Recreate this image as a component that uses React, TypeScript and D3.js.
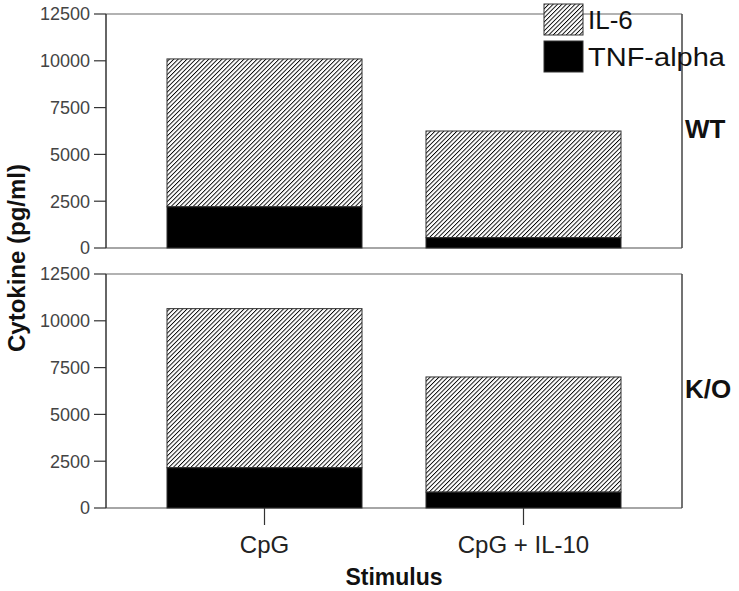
import React from "react";
import * as d3 from "d3";

const categories = ["CpG", "CpG + IL-10"];
const panels = ["WT", "K/O"];
const tnfAlpha = [
  [2200, 550],
  [2150, 850],
];
const il6Total = [
  [10100, 6250],
  [10650, 7000],
];
const yTicks = [0, 2500, 5000, 7500, 10000, 12500];
const legendLabels = ["IL-6", "TNF-alpha"];

const W = 739;
const H = 591;
const left = 106;
const right = 682;
const panelRanges: [number, number][] = [
  [248, 14],
  [508, 274],
];
const font = "'Liberation Sans', Arial, sans-serif";

export default function App() {
  const x = d3
    .scaleBand<string>()
    .domain(categories)
    .range([left, right])
    .paddingInner(0.247)
    .paddingOuter(0.2355);

  return (
    <svg
      width={W}
      height={H}
      style={{ position: "absolute", left: 0, top: 0, background: "#fff" }}
      fontFamily={font}
    >
      <defs>
        <pattern
          id="hatch"
          patternUnits="userSpaceOnUse"
          width={3.1}
          height={3.1}
          patternTransform="rotate(45)"
        >
          <rect width={3.1} height={3.1} fill="#fff" />
          <line x1={0} y1={0} x2={0} y2={3.1} stroke="#000" strokeWidth={1.8} />
        </pattern>
      </defs>
      {panels.map((p, pi) => {
        const y = d3.scaleLinear().domain([0, 12500]).range(panelRanges[pi]);
        const y0 = y(0);
        const yTop = y(12500);
        return (
          <g key={p}>
            <line x1={left} x2={right} y1={yTop} y2={yTop} stroke="#999" strokeWidth={1.5} />
            <line x1={left} x2={right} y1={y0} y2={y0} stroke="#888" strokeWidth={1.5} />
            <line x1={right} x2={right} y1={yTop} y2={y0} stroke="#444" strokeWidth={1.5} />
            {categories.map((c, ci) => {
              const bx = x(c)!;
              const bw = x.bandwidth();
              const t = tnfAlpha[pi][ci];
              const tot = il6Total[pi][ci];
              return (
                <g key={c}>
                  <rect
                    x={bx}
                    y={y(tot)}
                    width={bw}
                    height={y(t) - y(tot)}
                    fill="url(#hatch)"
                    stroke="#333"
                    strokeWidth={1}
                  />
                  <rect
                    x={bx}
                    y={y(t)}
                    width={bw}
                    height={y0 - y(t)}
                    fill="#000"
                    stroke="#333"
                    strokeWidth={1}
                  />
                </g>
              );
            })}
            <line x1={left} x2={left} y1={yTop} y2={y0} stroke="#333" strokeWidth={1.5} />
            {yTicks.map((v) => (
              <g key={v}>
                <line x1={left - 12} x2={left} y1={y(v)} y2={y(v)} stroke="#333" strokeWidth={1.2} />
                <text
                  x={left - 16}
                  y={y(v)}
                  dy="0.35em"
                  textAnchor="end"
                  fontSize={18}
                  fill="#444"
                >
                  {v}
                </text>
              </g>
            ))}
            <text
              x={685}
              y={(yTop + y0) / 2 - 2}
              dy="0.35em"
              fontSize={26}
              fontWeight="bold"
              fill="#111"
            >
              {p}
            </text>
          </g>
        );
      })}
      {categories.map((c) => {
        const cx = x(c)! + x.bandwidth() / 2;
        return (
          <g key={c}>
            <line x1={cx} x2={cx} y1={508} y2={525} stroke="#333" strokeWidth={1.2} />
            <text x={cx} y={553} textAnchor="middle" fontSize={24} fill="#222">
              {c}
            </text>
          </g>
        );
      })}
      <text x={394} y={585} textAnchor="middle" fontSize={23} fontWeight="bold" fill="#111">
        Stimulus
      </text>
      <text
        transform={`translate(25, 258) rotate(-90)`}
        textAnchor="middle"
        fontSize={24}
        fontWeight="bold"
        fill="#111"
      >
        Cytokine (pg/ml)
      </text>
      <rect x={544} y={4} width={39} height={31} fill="url(#hatch)" stroke="#333" strokeWidth={1} />
      <rect x={544} y={41} width={39} height={31} fill="#000" stroke="#333" strokeWidth={1} />
      <text x={588} y={20} dy="0.35em" fontSize={26} fill="#111">
        {legendLabels[0]}
      </text>
      <text
        x={588}
        y={57}
        dy="0.35em"
        fontSize={26}
        fill="#111"
        textLength={137}
        lengthAdjust="spacingAndGlyphs"
      >
        {legendLabels[1]}
      </text>
    </svg>
  );
}
